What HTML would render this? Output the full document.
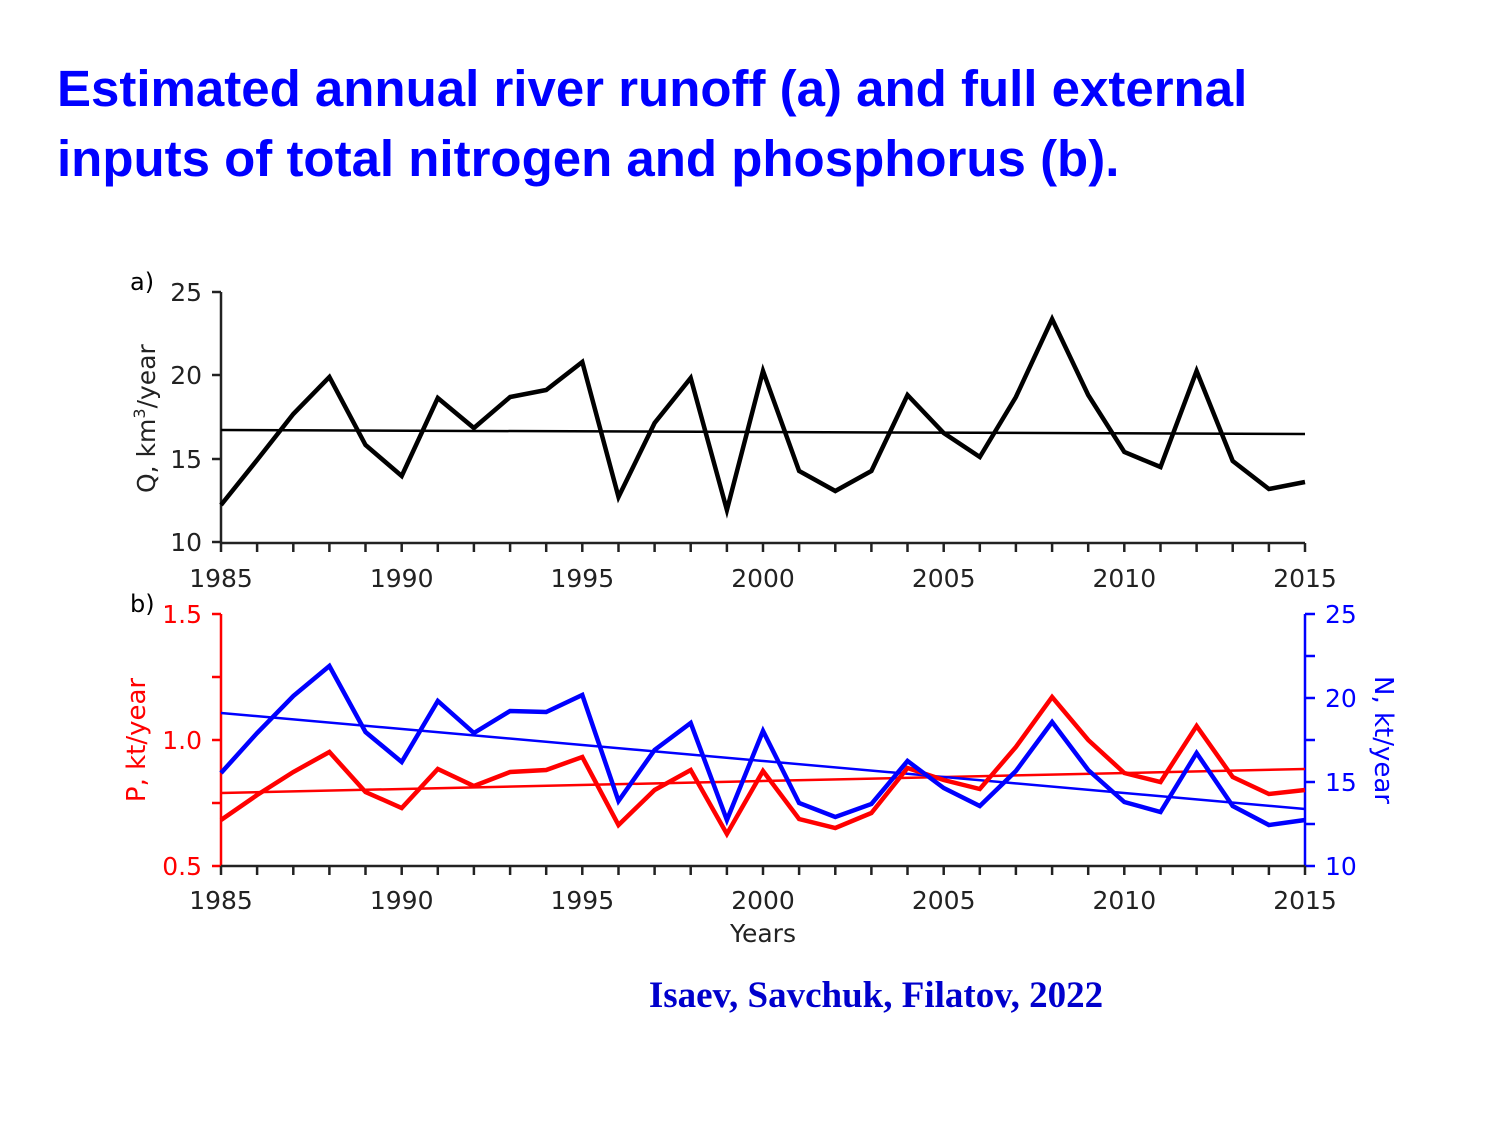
<!DOCTYPE html>
<html><head><meta charset="utf-8"><style>
body{margin:0;background:#fff;width:1500px;height:1125px;overflow:hidden}
svg{display:block}
</style></head><body>
<svg width="1500" height="1125" xmlns="http://www.w3.org/2000/svg" font-family="DejaVu Sans, sans-serif">
<text x="57" y="106" font-family="Liberation Sans, sans-serif" font-weight="bold" font-size="51" fill="#0000ff">Estimated annual river runoff (a) and full external</text>
<text x="57" y="176" font-family="Liberation Sans, sans-serif" font-weight="bold" font-size="51" fill="#0000ff">inputs of total nitrogen and phosphorus (b).</text>

<!-- Panel a -->
<g stroke="#222" stroke-width="2.5" fill="none">
<line x1="221" y1="292" x2="221" y2="543"/>
<line x1="221" y1="543" x2="1305" y2="543"/>
<line x1="212" y1="292" x2="221" y2="292"/><line x1="212" y1="375" x2="221" y2="375"/><line x1="212" y1="459" x2="221" y2="459"/><line x1="212" y1="542" x2="221" y2="542"/>
</g>
<g stroke="#222" stroke-width="2.5">
<path d="M221 543v9M257.1 543v9M293.3 543v9M329.4 543v9M365.5 543v9M401.7 543v9M437.8 543v9M473.9 543v9M510.1 543v9M546.2 543v9M582.3 543v9M618.5 543v9M654.6 543v9M690.7 543v9M726.9 543v9M763 543v9M799.1 543v9M835.3 543v9M871.4 543v9M907.5 543v9M943.7 543v9M979.8 543v9M1015.9 543v9M1052.1 543v9M1088.2 543v9M1124.3 543v9M1160.5 543v9M1196.6 543v9M1232.7 543v9M1268.9 543v9M1305 543v9"/>
</g>
<g font-size="25" fill="#222" text-anchor="end">
<text x="202" y="301">25</text><text x="202" y="384">20</text><text x="202" y="468">15</text><text x="202" y="551">10</text>
</g>
<g font-size="25" fill="#222" text-anchor="middle">
<text x="221" y="587">1985</text><text x="401.7" y="587">1990</text><text x="582.3" y="587">1995</text><text x="763" y="587">2000</text><text x="943.7" y="587">2005</text><text x="1124.3" y="587">2010</text><text x="1305" y="587">2015</text>
</g>
<text x="130" y="290" font-size="24" fill="#000">a)</text>
<text transform="translate(155,493) rotate(-90)" font-size="25" fill="#222">Q, km<tspan font-size="16" dy="-10">3</tspan><tspan dy="10">/year</tspan></text>
<line x1="221" y1="430" x2="1305" y2="434" stroke="#000" stroke-width="2.5"/>
<polyline fill="none" stroke="#000" stroke-width="4.5" points="221,505 257.1,460 293.3,414 329.4,377 365.5,445 401.7,476 437.8,398 473.9,428 510.1,397 546.2,390 582.3,362 618.5,497 654.6,423 690.7,378 726.9,510 763,371 799.1,471 835.3,491 871.4,471 907.5,395 943.7,433 979.8,457 1015.9,397 1052.1,319 1088.2,395 1124.3,452 1160.5,467 1196.6,371 1232.7,461 1268.9,489 1305,482"/>

<!-- Panel b -->
<g stroke="#ff0000" stroke-width="2.5">
<line x1="221" y1="614" x2="221" y2="866"/>
<path d="M212 614h9M212 677h9M212 740h9M212 803h9M212 866h9"/>
</g>
<g stroke="#0000ff" stroke-width="2.5">
<line x1="1305" y1="614" x2="1305" y2="866"/>
<path d="M1305 614h10M1305 656h10M1305 698h10M1305 740h10M1305 782h10M1305 824h10M1305 866h10"/>
</g>
<g stroke="#222" stroke-width="2.5">
<line x1="221" y1="866" x2="1305" y2="866"/>
<path d="M221 866v9M257.1 866v9M293.3 866v9M329.4 866v9M365.5 866v9M401.7 866v9M437.8 866v9M473.9 866v9M510.1 866v9M546.2 866v9M582.3 866v9M618.5 866v9M654.6 866v9M690.7 866v9M726.9 866v9M763 866v9M799.1 866v9M835.3 866v9M871.4 866v9M907.5 866v9M943.7 866v9M979.8 866v9M1015.9 866v9M1052.1 866v9M1088.2 866v9M1124.3 866v9M1160.5 866v9M1196.6 866v9M1232.7 866v9M1268.9 866v9M1305 866v9"/>
</g>
<g font-size="25" fill="#ff0000" text-anchor="end">
<text x="202" y="623">1.5</text><text x="202" y="749">1.0</text><text x="202" y="875">0.5</text>
</g>
<g font-size="25" fill="#0000ff" text-anchor="start">
<text x="1325" y="623">25</text><text x="1325" y="707">20</text><text x="1325" y="791">15</text><text x="1325" y="875">10</text>
</g>
<g font-size="25" fill="#222" text-anchor="middle">
<text x="221" y="909">1985</text><text x="401.7" y="909">1990</text><text x="582.3" y="909">1995</text><text x="763" y="909">2000</text><text x="943.7" y="909">2005</text><text x="1124.3" y="909">2010</text><text x="1305" y="909">2015</text>
<text x="763" y="942">Years</text>
</g>
<text x="130" y="612" font-size="24" fill="#000">b)</text>
<text transform="translate(145,740) rotate(-90)" font-size="26" fill="#ff0000" text-anchor="middle">P, kt/year</text>
<text transform="translate(1375,740) rotate(90)" font-size="26" fill="#0000ff" text-anchor="middle">N, kt/year</text>
<line x1="221" y1="793" x2="1305" y2="769" stroke="#ff0000" stroke-width="2.5"/>
<line x1="221" y1="713" x2="1305" y2="809" stroke="#0000ff" stroke-width="2.5"/>
<polyline fill="none" stroke="#ff0000" stroke-width="4.5" points="221,820 257.1,795 293.3,772 329.4,752 365.5,792 401.7,808 437.8,769 473.9,786 510.1,772 546.2,770 582.3,757 618.5,825 654.6,790 690.7,770 726.9,834 763,771 799.1,819 835.3,828 871.4,813 907.5,768 943.7,780 979.8,789 1015.9,747 1052.1,697 1088.2,740 1124.3,773 1160.5,782 1196.6,726 1232.7,777 1268.9,794 1305,790"/>
<polyline fill="none" stroke="#0000ff" stroke-width="4.5" points="221,773 257.1,733 293.3,696 329.4,666 365.5,732 401.7,762 437.8,701 473.9,733 510.1,711 546.2,712 582.3,695 618.5,801 654.6,750 690.7,723 726.9,820 763,731 799.1,803 835.3,817 871.4,804 907.5,761 943.7,788 979.8,806 1015.9,771 1052.1,722 1088.2,770 1124.3,802 1160.5,812 1196.6,753 1232.7,806 1268.9,825 1305,820"/>

<text x="876" y="1007" font-family="Liberation Serif, serif" font-weight="bold" font-size="37" fill="#0000cc" text-anchor="middle">Isaev, Savchuk, Filatov, 2022</text>
</svg>
</body></html>
